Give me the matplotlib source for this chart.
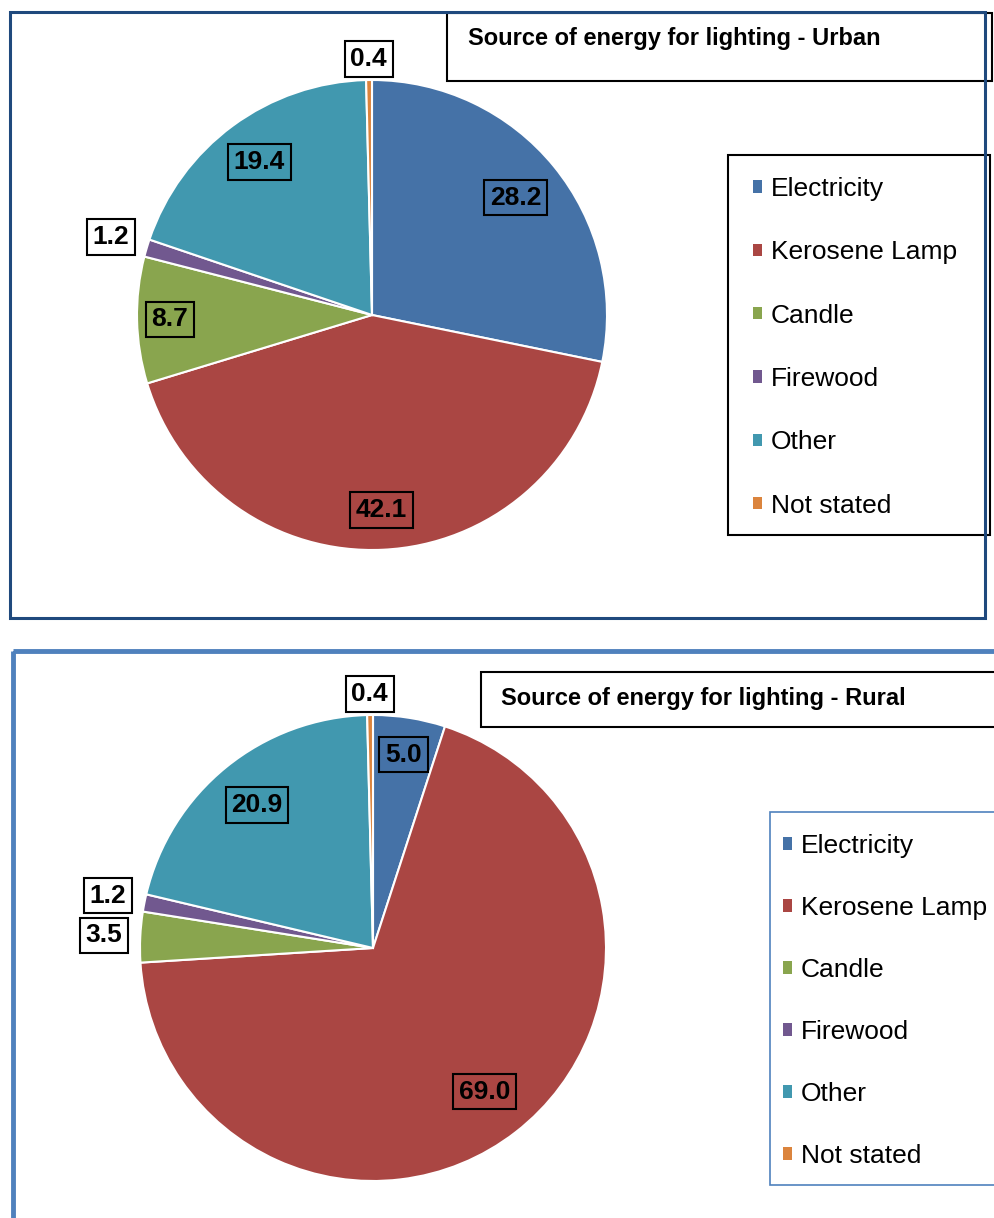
import matplotlib.pyplot as plt
import numpy as np
from matplotlib.patches import Rectangle, Patch

plt.rcParams['font.family'] = ['Liberation Sans', 'DejaVu Sans']

# data
categories = ['Electricity', 'Kerosene Lamp', 'Candle', 'Firewood', 'Other', 'Not stated']
urban = [28.2, 42.1, 8.7, 1.2, 19.4, 0.4]
rural = [5.0, 69.0, 3.5, 1.2, 20.9, 0.4]
colors = ['#4572A7', '#AA4643', '#89A54E', '#71588F', '#4198AF', '#DB843D']

# label distance from centre, as a fraction of the radius
urban_label_r = [0.79, 0.83, 0.86, 1.16, 0.81, 1.09]
rural_label_r = [0.84, 0.78, 1.155, 1.16, 0.79, 1.09]

W, H = 994, 1218
fig = plt.figure(figsize=(W / 100, H / 100), dpi=100)


def fx(x):
    return x / W


def fy(y):
    return 1 - y / H


# background axes in pixel units for frames and boxes
bg = fig.add_axes([0, 0, 1, 1])
bg.set_xlim(0, W)
bg.set_ylim(H, 0)
bg.axis('off')

# panel frames
bg.add_patch(Rectangle((10, 12), 975, 606, fill=False, ec='#1F497D', lw=2.2, zorder=5))
bg.add_patch(Rectangle((12.5, 650.5), 1100, 700, fill=False, ec='#4F81BD', lw=3.5, zorder=5))

# title boxes
bg.add_patch(Rectangle((447, 13), 545, 68, fc='white', ec='black', lw=1.5))
bg.text(468, 38, 'Source of energy for lighting - Urban', fontsize=17,
        fontweight='bold', va='center', ha='left')
bg.add_patch(Rectangle((481, 672), 540, 55, fc='white', ec='black', lw=1.5))
bg.text(501, 698, 'Source of energy for lighting - Rural', fontsize=17,
        fontweight='bold', va='center', ha='left')

# legend boxes
bg.add_patch(Rectangle((728, 155), 262, 380, fc='white', ec='black', lw=1.5))
bg.add_patch(Rectangle((770, 812), 300, 373, fc='white', ec='#4F81BD', lw=1.2))


def draw_pie(cx, cy, r, values, label_r):
    m = 1.02
    ax = fig.add_axes([fx(cx - r * m), fy(cy + r * m), 2 * r * m / W, 2 * r * m / H])
    wedges, _ = ax.pie(values, colors=colors, startangle=90, counterclock=False,
                       wedgeprops=dict(edgecolor='white', linewidth=1.5))
    ax.set_xlim(-m, m)
    ax.set_ylim(-m, m)
    ax.set_aspect('equal')
    ax.axis('off')
    for w, v, d in zip(wedges, values, label_r):
        t = np.deg2rad((w.theta1 + w.theta2) / 2)
        ax.text(d * np.cos(t), d * np.sin(t), '%.1f' % v, fontsize=19,
                fontweight='bold', ha='center', va='center',
                bbox=dict(boxstyle='square,pad=0.22',
                          fc='white' if d > 1 else 'none', ec='black', lw=1.5))
    return wedges


draw_pie(372, 315, 235, urban, urban_label_r)
draw_pie(373, 948, 233, rural, rural_label_r)

handles = [Patch(facecolor=c, label=l) for c, l in zip(colors, categories)]
for x0, top, spacing in [(753, 177, 1.49), (783, 834, 1.44)]:
    fig.legend(handles=handles, loc='upper left', bbox_to_anchor=(fx(x0), fy(top)),
               frameon=False, fontsize=19, borderpad=0, borderaxespad=0,
               handlelength=0.33, handleheight=0.33, handletextpad=0.35,
               labelspacing=spacing)

fig.savefig('out.png', dpi=100)
